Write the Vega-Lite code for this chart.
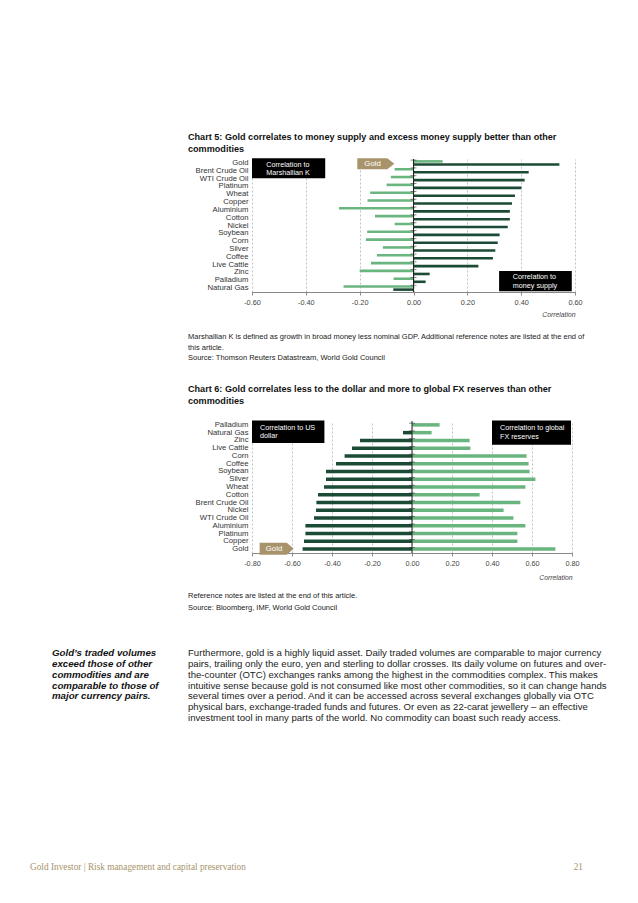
{
  "$schema": "https://vega.github.io/schema/vega-lite/v6.json",
  "background": "white",
  "padding": {"left": 30, "top": 133, "right": 5, "bottom": 5},
  "config": {"view": {"stroke": null}, "font": "Liberation Sans", "axis": {"labelOverlap": false, "labelFlush": false}},
  "title": {"text": "Gold Investor | Risk management and capital preservation", "orient": "bottom", "anchor": "start", "frame": "bounds", "dx": -22, "offset": -5, "baseline": "middle", "font": "Liberation Serif", "fontSize": 9.3, "fontWeight": "normal", "color": "#a8946a"},
  "datasets": {
    "chart5": [
      {"commodity": "Gold", "series": "Marshallian K", "value": 0.108}, {"commodity": "Gold", "series": "Money supply", "value": 0.542},
      {"commodity": "Brent Crude Oil", "series": "Marshallian K", "value": -0.07}, {"commodity": "Brent Crude Oil", "series": "Money supply", "value": 0.428},
      {"commodity": "WTI Crude Oil", "series": "Marshallian K", "value": -0.084}, {"commodity": "WTI Crude Oil", "series": "Money supply", "value": 0.413},
      {"commodity": "Platinum", "series": "Marshallian K", "value": -0.1}, {"commodity": "Platinum", "series": "Money supply", "value": 0.401},
      {"commodity": "Wheat", "series": "Marshallian K", "value": -0.161}, {"commodity": "Wheat", "series": "Money supply", "value": 0.377},
      {"commodity": "Copper", "series": "Marshallian K", "value": -0.171}, {"commodity": "Copper", "series": "Money supply", "value": 0.366},
      {"commodity": "Aluminium", "series": "Marshallian K", "value": -0.277}, {"commodity": "Aluminium", "series": "Money supply", "value": 0.358},
      {"commodity": "Cotton", "series": "Marshallian K", "value": -0.143}, {"commodity": "Cotton", "series": "Money supply", "value": 0.358},
      {"commodity": "Nickel", "series": "Marshallian K", "value": -0.07}, {"commodity": "Nickel", "series": "Money supply", "value": 0.35},
      {"commodity": "Soybean", "series": "Marshallian K", "value": -0.172}, {"commodity": "Soybean", "series": "Money supply", "value": 0.32},
      {"commodity": "Corn", "series": "Marshallian K", "value": -0.177}, {"commodity": "Corn", "series": "Money supply", "value": 0.313},
      {"commodity": "Silver", "series": "Marshallian K", "value": -0.114}, {"commodity": "Silver", "series": "Money supply", "value": 0.304},
      {"commodity": "Coffee", "series": "Marshallian K", "value": -0.136}, {"commodity": "Coffee", "series": "Money supply", "value": 0.295},
      {"commodity": "Live Cattle", "series": "Marshallian K", "value": -0.158}, {"commodity": "Live Cattle", "series": "Money supply", "value": 0.241},
      {"commodity": "Zinc", "series": "Marshallian K", "value": -0.2}, {"commodity": "Zinc", "series": "Money supply", "value": 0.06},
      {"commodity": "Palladium", "series": "Marshallian K", "value": -0.074}, {"commodity": "Palladium", "series": "Money supply", "value": 0.045},
      {"commodity": "Natural Gas", "series": "Marshallian K", "value": -0.26}, {"commodity": "Natural Gas", "series": "Money supply", "value": -0.075}
    ],
    "chart6": [
      {"commodity": "Palladium", "series": "US dollar", "value": 0.0}, {"commodity": "Palladium", "series": "FX reserves", "value": 0.138},
      {"commodity": "Natural Gas", "series": "US dollar", "value": -0.045}, {"commodity": "Natural Gas", "series": "FX reserves", "value": 0.098},
      {"commodity": "Zinc", "series": "US dollar", "value": -0.26}, {"commodity": "Zinc", "series": "FX reserves", "value": 0.288},
      {"commodity": "Live Cattle", "series": "US dollar", "value": -0.3}, {"commodity": "Live Cattle", "series": "FX reserves", "value": 0.292},
      {"commodity": "Corn", "series": "US dollar", "value": -0.337}, {"commodity": "Corn", "series": "FX reserves", "value": 0.573},
      {"commodity": "Coffee", "series": "US dollar", "value": -0.38}, {"commodity": "Coffee", "series": "FX reserves", "value": 0.583},
      {"commodity": "Soybean", "series": "US dollar", "value": -0.43}, {"commodity": "Soybean", "series": "FX reserves", "value": 0.588},
      {"commodity": "Silver", "series": "US dollar", "value": -0.43}, {"commodity": "Silver", "series": "FX reserves", "value": 0.617},
      {"commodity": "Wheat", "series": "US dollar", "value": -0.44}, {"commodity": "Wheat", "series": "FX reserves", "value": 0.567},
      {"commodity": "Cotton", "series": "US dollar", "value": -0.47}, {"commodity": "Cotton", "series": "FX reserves", "value": 0.338},
      {"commodity": "Brent Crude Oil", "series": "US dollar", "value": -0.478}, {"commodity": "Brent Crude Oil", "series": "FX reserves", "value": 0.542},
      {"commodity": "Nickel", "series": "US dollar", "value": -0.48}, {"commodity": "Nickel", "series": "FX reserves", "value": 0.458},
      {"commodity": "WTI Crude Oil", "series": "US dollar", "value": -0.49}, {"commodity": "WTI Crude Oil", "series": "FX reserves", "value": 0.507},
      {"commodity": "Aluminium", "series": "US dollar", "value": -0.533}, {"commodity": "Aluminium", "series": "FX reserves", "value": 0.567},
      {"commodity": "Platinum", "series": "US dollar", "value": -0.533}, {"commodity": "Platinum", "series": "FX reserves", "value": 0.527},
      {"commodity": "Copper", "series": "US dollar", "value": -0.54}, {"commodity": "Copper", "series": "FX reserves", "value": 0.527},
      {"commodity": "Gold", "series": "US dollar", "value": -0.547}, {"commodity": "Gold", "series": "FX reserves", "value": 0.717}
    ],
    "ann5": [
      {"kind": "box", "x": -0.6, "x2": -0.328, "y": -0.1, "y2": 2.45},
      {"kind": "boxtext", "x": -0.547, "y": 0.75, "label": "Correlation to"},
      {"kind": "boxtext", "x": -0.547, "y": 1.82, "label": "Marshallian K"},
      {"kind": "box", "x": 0.318, "x2": 0.588, "y": 14.3, "y2": 16.9},
      {"kind": "boxtext", "x": 0.369, "y": 15.12, "label": "Correlation to"},
      {"kind": "boxtext", "x": 0.369, "y": 16.2, "label": "money supply"},
      {"kind": "tag", "x": -0.14, "tx": -0.152, "y": 0.6, "label": "Gold"}
    ],
    "ann6": [
      {"kind": "box", "x": -0.8, "x2": -0.438, "y": -0.05, "y2": 2.82},
      {"kind": "boxtext", "x": -0.76, "y": 0.85, "label": "Correlation to US"},
      {"kind": "boxtext", "x": -0.76, "y": 1.97, "label": "dollar"},
      {"kind": "box", "x": 0.4, "x2": 0.795, "y": -0.05, "y2": 3.05},
      {"kind": "boxtext", "x": 0.44, "y": 0.9, "label": "Correlation to global"},
      {"kind": "boxtext", "x": 0.44, "y": 2.02, "label": "FX reserves"},
      {"kind": "tag", "x": -0.677, "tx": -0.69, "y": 16.45, "label": "Gold"}
    ],
    "notes5": [
      {"line": 1, "text": "Marshallian K is defined as growth in broad money less nominal GDP. Additional reference notes are listed at the end of"},
      {"line": 2, "text": "this article."},
      {"line": 3, "text": "Source: Thomson Reuters Datastream, World Gold Council"}
    ],
    "notes6": [
      {"line": 1, "text": "Reference notes are listed at the end of this article."},
      {"line": 2, "text": "Source: Bloomberg, IMF, World Gold Council"}
    ],
    "sidebar": [
      {"line": 1, "text": "Gold’s traded volumes"},
      {"line": 2, "text": "exceed those of other"},
      {"line": 3, "text": "commodities and are"},
      {"line": 4, "text": "comparable to those of"},
      {"line": 5, "text": "major currency pairs."}
    ],
    "body": [
      {"line": 1, "text": "Furthermore, gold is a highly liquid asset. Daily traded volumes are comparable to major currency"},
      {"line": 2, "text": "pairs, trailing only the euro, yen and sterling to dollar crosses. Its daily volume on futures and over-"},
      {"line": 3, "text": "the-counter (OTC) exchanges ranks among the highest in the commodities complex. This makes"},
      {"line": 4, "text": "intuitive sense because gold is not consumed like most other commodities, so it can change hands"},
      {"line": 5, "text": "several times over a period. And it can be accessed across several exchanges globally via OTC"},
      {"line": 6, "text": "physical bars, exchange-traded funds and futures. Or even as 22-carat jewellery – an effective"},
      {"line": 7, "text": "investment tool in many parts of the world. No commodity can boast such ready access."}
    ]
  },
  "spacing": 139,
  "vconcat": [
    {
      "columns": 2,
      "align": {"row": "each", "column": "none"},
      "bounds": "full",
      "spacing": {"row": 0, "column": 8},
      "concat": [
        {"data": {"values": []}, "mark": "text", "width": 128, "height": 1},
        {
          "width": 323, "height": 133,
          "title": {"text": ["Chart 5: Gold correlates to money supply and excess money supply better than other", "commodities"], "anchor": "start", "frame": "bounds", "font": "Liberation Sans", "fontSize": 9.1, "fontWeight": "bold", "color": "#111111", "lineHeight": 12, "offset": 4},
          "layer": [
            {
              "data": {"name": "chart5"},
              "layer": [
                {
                  "mark": {"type": "bar"},
                  "encoding": {
                    "y": {"field": "commodity", "type": "nominal", "sort": ["Gold","Brent Crude Oil","WTI Crude Oil","Platinum","Wheat","Copper","Aluminium","Cotton","Nickel","Soybean","Corn","Silver","Coffee","Live Cattle","Zinc","Palladium","Natural Gas"], "scale": {"paddingInner": 0.28, "paddingOuter": 0.14}, "axis": {"title": null, "domain": false, "ticks": false, "labelFont": "Liberation Sans", "labelFontSize": 7.7, "labelColor": "#333333", "labelPadding": 4, "minExtent": 64}},
                    "yOffset": {"field": "series", "type": "nominal", "sort": ["Marshallian K", "Money supply"], "scale": {"paddingInner": 0.15}},
                    "x": {"field": "value", "type": "quantitative", "title": "Correlation", "scale": {"domain": [-0.6, 0.6], "nice": false, "zero": false}, "axis": {"values": [-0.6, -0.4, -0.2, 0, 0.2, 0.4, 0.6], "tickCount": 12, "labelOverlap": false, "labelFlush": false, "labelExpr": "replace(format(datum.value, '.2f'), '\u2212', '-')", "labelFont": "Liberation Sans", "labelFontSize": 7.3, "labelColor": "#444444", "labelPadding": 3, "domainColor": "#888888", "tickColor": "#888888", "tickSize": 3, "grid": true, "gridDash": [2, 2], "gridColor": "#999999", "gridWidth": 0.6, "titleFont": "Liberation Sans", "titleFontStyle": "italic", "titleFontWeight": "normal", "titleFontSize": 6.8, "titleColor": "#444444", "titleAnchor": "end", "titlePadding": 6}},
                    "color": {"field": "series", "type": "nominal", "scale": {"domain": ["Marshallian K", "Money supply"], "range": ["#6ab57f", "#1b4a35"]}, "legend": null}
                  }
                },
                {
                  "transform": [{"filter": "datum.series == 'Money supply'"}],
                  "mark": {"type": "tick", "orient": "horizontal", "size": 6, "thickness": 0.8, "color": "#333333"},
                  "encoding": {"y": {"field": "commodity", "type": "nominal", "bandPosition": 0, "sort": ["Gold","Brent Crude Oil","WTI Crude Oil","Platinum","Wheat","Copper","Aluminium","Cotton","Nickel","Soybean","Corn","Silver","Coffee","Live Cattle","Zinc","Palladium","Natural Gas"]}, "x": {"datum": 0}}
                },
                {
                  "data": {"values": [{"zero": 0}]},
                  "mark": {"type": "rule", "color": "#222222", "strokeWidth": 1},
                  "encoding": {"x": {"field": "zero", "type": "quantitative", "title": "Correlation"}}
                }
              ]
            },
            {
              "data": {"name": "ann5"},
              "layer": [
                {"transform": [{"filter": "datum.kind == 'box'"}], "mark": {"type": "rect", "color": "#000000"}, "encoding": {"x": {"field": "x", "type": "quantitative", "title": "Correlation"}, "x2": {"field": "x2"}, "y": {"field": "y", "type": "quantitative", "scale": {"domain": [0, 17], "reverse": true, "nice": false, "zero": false}, "axis": null}, "y2": {"field": "y2"}}},
                {"transform": [{"filter": "datum.kind == 'boxtext'"}], "mark": {"type": "text", "align": "left", "baseline": "middle", "color": "#ffffff", "font": "Liberation Sans", "fontSize": 7.2}, "encoding": {"x": {"field": "x", "type": "quantitative", "title": "Correlation"}, "y": {"field": "y", "type": "quantitative"}, "text": {"field": "label"}}},
                {"transform": [{"filter": "datum.kind == 'tag'"}], "mark": {"type": "point", "shape": "M-1,-0.3L0.62,-0.3L1,0L0.62,0.3L-1,0.3Z", "size": 1369, "filled": true, "color": "#a8946a", "opacity": 1, "strokeWidth": 0}, "encoding": {"x": {"field": "x", "type": "quantitative", "title": "Correlation"}, "y": {"field": "y", "type": "quantitative"}}},
                {"transform": [{"filter": "datum.kind == 'tag'"}], "mark": {"type": "text", "align": "center", "baseline": "middle", "color": "#ffffff", "font": "Liberation Sans", "fontSize": 7.8}, "encoding": {"x": {"field": "tx", "type": "quantitative", "title": "Correlation"}, "y": {"field": "y", "type": "quantitative"}, "text": {"field": "label"}}}
              ]
            }
          ],
          "resolve": {"scale": {"y": "independent"}}
        },
        {"data": {"values": []}, "mark": "text", "width": 128, "height": 1},
        {
          "width": 400, "height": 65.5,
          "data": {"name": "notes5"},
          "mark": {"type": "text", "align": "left", "baseline": "middle", "font": "Liberation Sans", "fontSize": 7.5, "color": "#1a1a1a"},
          "encoding": {
            "x": {"datum": 0, "type": "quantitative", "scale": {"domain": [0, 1]}, "axis": null},
            "y": {"field": "line", "type": "quantitative", "axis": null, "scale": {"domain": [-0.743, 5.495], "reverse": true, "nice": false, "zero": false}},
            "text": {"field": "text"}
          }
        },
        {"data": {"values": []}, "mark": "text", "width": 128, "height": 1},
        {
          "width": 320, "height": 132,
          "title": {"text": ["Chart 6: Gold correlates less to the dollar and more to global FX reserves than other", "commodities"], "anchor": "start", "frame": "bounds", "font": "Liberation Sans", "fontSize": 9.1, "fontWeight": "bold", "color": "#111111", "lineHeight": 12, "offset": 14},
          "layer": [
            {
              "data": {"name": "chart6"},
              "layer": [
                {
                  "mark": {"type": "bar"},
                  "encoding": {
                    "y": {"field": "commodity", "type": "nominal", "sort": ["Palladium","Natural Gas","Zinc","Live Cattle","Corn","Coffee","Soybean","Silver","Wheat","Cotton","Brent Crude Oil","Nickel","WTI Crude Oil","Aluminium","Platinum","Copper","Gold"], "scale": {"paddingInner": 0.55, "paddingOuter": 0.275}, "axis": {"title": null, "domain": false, "ticks": false, "labelFont": "Liberation Sans", "labelFontSize": 7.7, "labelColor": "#333333", "labelPadding": 4, "minExtent": 64}},
                    "x": {"field": "value", "type": "quantitative", "title": "Correlation", "scale": {"domain": [-0.8, 0.8], "nice": false, "zero": false}, "axis": {"values": [-0.8, -0.6, -0.4, -0.2, 0, 0.2, 0.4, 0.6, 0.8], "tickCount": 12, "labelOverlap": false, "labelFlush": false, "labelExpr": "replace(format(datum.value, '.2f'), '\u2212', '-')", "labelFont": "Liberation Sans", "labelFontSize": 7.3, "labelColor": "#444444", "labelPadding": 3, "domainColor": "#888888", "tickColor": "#888888", "tickSize": 3, "grid": true, "gridDash": [2, 2], "gridColor": "#999999", "gridWidth": 0.6, "titleFont": "Liberation Sans", "titleFontStyle": "italic", "titleFontWeight": "normal", "titleFontSize": 6.8, "titleColor": "#444444", "titleAnchor": "end", "titlePadding": 8}},
                    "color": {"field": "series", "type": "nominal", "scale": {"domain": ["FX reserves", "US dollar"], "range": ["#6ab57f", "#1b4a35"]}, "legend": null}
                  }
                },
                {
                  "transform": [{"filter": "datum.series == 'US dollar'"}],
                  "mark": {"type": "tick", "orient": "horizontal", "size": 6, "thickness": 0.8, "color": "#333333"},
                  "encoding": {"y": {"field": "commodity", "type": "nominal", "bandPosition": 0, "sort": ["Palladium","Natural Gas","Zinc","Live Cattle","Corn","Coffee","Soybean","Silver","Wheat","Cotton","Brent Crude Oil","Nickel","WTI Crude Oil","Aluminium","Platinum","Copper","Gold"]}, "x": {"datum": 0}}
                },
                {
                  "data": {"values": [{"zero": 0}]},
                  "mark": {"type": "rule", "color": "#222222", "strokeWidth": 1},
                  "encoding": {"x": {"field": "zero", "type": "quantitative", "title": "Correlation"}}
                }
              ]
            },
            {
              "data": {"name": "ann6"},
              "layer": [
                {"transform": [{"filter": "datum.kind == 'box'"}], "mark": {"type": "rect", "color": "#000000"}, "encoding": {"x": {"field": "x", "type": "quantitative", "title": "Correlation"}, "x2": {"field": "x2"}, "y": {"field": "y", "type": "quantitative", "scale": {"domain": [0, 17], "reverse": true, "nice": false, "zero": false}, "axis": null}, "y2": {"field": "y2"}}},
                {"transform": [{"filter": "datum.kind == 'boxtext'"}], "mark": {"type": "text", "align": "left", "baseline": "middle", "color": "#ffffff", "font": "Liberation Sans", "fontSize": 7.2}, "encoding": {"x": {"field": "x", "type": "quantitative", "title": "Correlation"}, "y": {"field": "y", "type": "quantitative"}, "text": {"field": "label"}}},
                {"transform": [{"filter": "datum.kind == 'tag'"}], "mark": {"type": "point", "shape": "M-1,-0.35L0.6,-0.35L1,0L0.6,0.35L-1,0.35Z", "size": 1156, "filled": true, "color": "#a8946a", "opacity": 1, "strokeWidth": 0}, "encoding": {"x": {"field": "x", "type": "quantitative", "title": "Correlation"}, "y": {"field": "y", "type": "quantitative"}}},
                {"transform": [{"filter": "datum.kind == 'tag'"}], "mark": {"type": "text", "align": "center", "baseline": "middle", "color": "#ffffff", "font": "Liberation Sans", "fontSize": 7.8}, "encoding": {"x": {"field": "tx", "type": "quantitative", "title": "Correlation"}, "y": {"field": "y", "type": "quantitative"}, "text": {"field": "label"}}}
              ]
            }
          ],
          "resolve": {"scale": {"y": "independent"}}
        },
        {"data": {"values": []}, "mark": "text", "width": 128, "height": 1},
        {
          "width": 400, "height": 66,
          "data": {"name": "notes6"},
          "mark": {"type": "text", "align": "left", "baseline": "middle", "font": "Liberation Sans", "fontSize": 7.5, "color": "#1a1a1a"},
          "encoding": {
            "x": {"datum": 0, "type": "quantitative", "scale": {"domain": [0, 1]}, "axis": null},
            "y": {"field": "line", "type": "quantitative", "axis": null, "scale": {"domain": [-0.208, 5.292], "reverse": true, "nice": false, "zero": false}},
            "text": {"field": "text"}
          }
        },
        {
          "width": 128, "height": 75,
          "data": {"name": "sidebar"},
          "mark": {"type": "text", "align": "left", "baseline": "middle", "font": "Liberation Sans", "fontSize": 9.7, "fontWeight": "bold", "fontStyle": "italic", "color": "#111111"},
          "encoding": {
            "x": {"datum": 0, "type": "quantitative", "scale": {"domain": [0, 1]}, "axis": null},
            "y": {"field": "line", "type": "quantitative", "axis": null, "scale": {"domain": [0.5, 7.5], "reverse": true, "nice": false, "zero": false}},
            "text": {"field": "text"}
          }
        },
        {
          "width": 412, "height": 75,
          "data": {"name": "body"},
          "mark": {"type": "text", "align": "left", "baseline": "middle", "font": "Liberation Sans", "fontSize": 9.6, "color": "#222222"},
          "encoding": {
            "x": {"datum": 0, "type": "quantitative", "scale": {"domain": [0, 1]}, "axis": null},
            "y": {"field": "line", "type": "quantitative", "axis": null, "scale": {"domain": [0.5, 7.5], "reverse": true, "nice": false, "zero": false}},
            "text": {"field": "text"}
          }
        }
      ]
    },
    {
      "width": 531, "height": 10,
      "data": {"values": [{"page": "21"}]},
      "mark": {"type": "text", "align": "right", "baseline": "middle", "font": "Liberation Serif", "fontSize": 9.3, "color": "#a8946a"},
      "encoding": {
        "x": {"datum": 1, "type": "quantitative", "scale": {"domain": [0, 1]}, "axis": null},
        "text": {"field": "page"}
      }
    }
  ]
}
